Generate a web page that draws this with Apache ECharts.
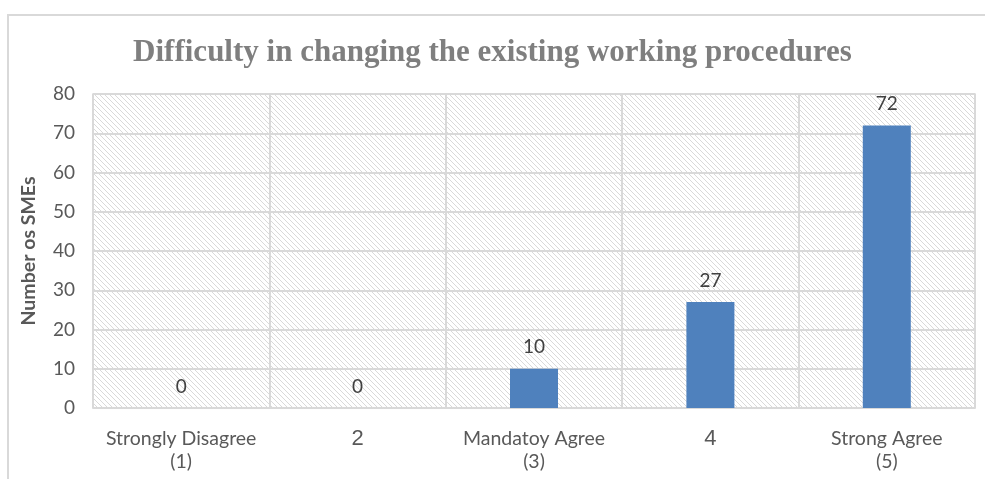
<!DOCTYPE html>
<html>
<head>
<meta charset="utf-8">
<script src="https://cdn.jsdelivr.net/npm/echarts@6/dist/echarts.min.js"></script>
<style>
  html, body { margin: 0; padding: 0; background: #fff; }
  #chart { width: 985px; height: 479px; }
</style>
</head>
<body>
<div id="chart"></div>
<script>
// Survey responses: number of SMEs per agreement level
const categories = ['Strongly Disagree\n(1)', '2', 'Mandatoy Agree\n(3)', '4', 'Strong Agree\n(5)'];
const counts = [0, 0, 10, 27, 72];
const yTicks = { min: 0, max: 80, interval: 10 };

// Diagonal hatch tile used as the plot background
function hatchTile() {
  const p = 5;
  const c = document.createElement('canvas');
  c.width = p; c.height = p;
  const ctx = c.getContext('2d');
  ctx.fillStyle = '#ffffff';
  ctx.fillRect(0, 0, p, p);
  ctx.strokeStyle = '#d9d9d9';
  ctx.lineWidth = 1;
  ctx.beginPath();
  ctx.moveTo(-1, -1); ctx.lineTo(p + 1, p + 1);
  ctx.moveTo(-1, p - 1); ctx.lineTo(1, p + 1);
  ctx.moveTo(p - 1, -1); ctx.lineTo(p + 1, 1);
  ctx.stroke();
  return c;
}

const chart = echarts.init(document.getElementById('chart'), null, { renderer: 'canvas' });

chart.setOption({
  animation: false,
  backgroundColor: '#ffffff',
  title: {
    text: 'Difficulty in changing the existing working procedures',
    left: 'center',
    top: 32,
    textStyle: {
      fontFamily: 'Liberation Serif',
      fontWeight: 'bold',
      fontSize: 31,
      color: '#7f7f7f'
    }
  },
  graphic: [{
    type: 'rect',
    silent: true,
    z: -1,
    shape: { x: 8, y: 15, width: 1200, height: 600 },
    style: { fill: null, stroke: '#d9d9d9', lineWidth: 2 }
  }],
  grid: {
    left: 93, right: 10, top: 94, bottom: 71,
    show: true,
    backgroundColor: { image: hatchTile(), repeat: 'repeat' },
    borderColor: '#d9d9d9',
    borderWidth: 1.5
  },
  xAxis: {
    type: 'category',
    data: categories,
    axisLine: { show: true, lineStyle: { color: '#d9d9d9', width: 1.5 } },
    axisTick: { show: false },
    splitLine: { show: true, lineStyle: { color: '#d9d9d9', width: 2 } },
    axisLabel: {
      interval: 0,
      margin: 19,
      fontFamily: 'Lato',
      fontSize: 19.5,
      lineHeight: 23,
      color: '#595959',
      formatter: function (v) {
        return v.indexOf('\n') >= 0 ? v : '{big|' + v + '}';
      },
      rich: {
        big: { fontFamily: 'Liberation Sans', fontSize: 22, color: '#595959' }
      }
    }
  },
  yAxis: {
    type: 'value',
    min: yTicks.min,
    max: yTicks.max,
    interval: yTicks.interval,
    name: 'Number os SMEs',
    nameLocation: 'middle',
    nameGap: 54,
    nameTextStyle: {
      fontFamily: 'Lato',
      fontWeight: 'bold',
      fontSize: 19.5,
      color: '#595959'
    },
    axisLine: { show: false },
    axisTick: { show: false },
    splitLine: { show: true, lineStyle: { color: '#d9d9d9', width: 2 } },
    axisLabel: {
      margin: 18,
      fontFamily: 'Lato',
      fontSize: 19,
      color: '#595959'
    }
  },
  series: [{
    type: 'bar',
    data: counts,
    barWidth: 48,
    itemStyle: { color: '#4f81bd' },
    label: {
      show: true,
      position: 'top',
      distance: 12,
      fontFamily: 'Lato',
      fontSize: 19,
      color: '#404040'
    }
  }]
});
</script>
</body>
</html>
